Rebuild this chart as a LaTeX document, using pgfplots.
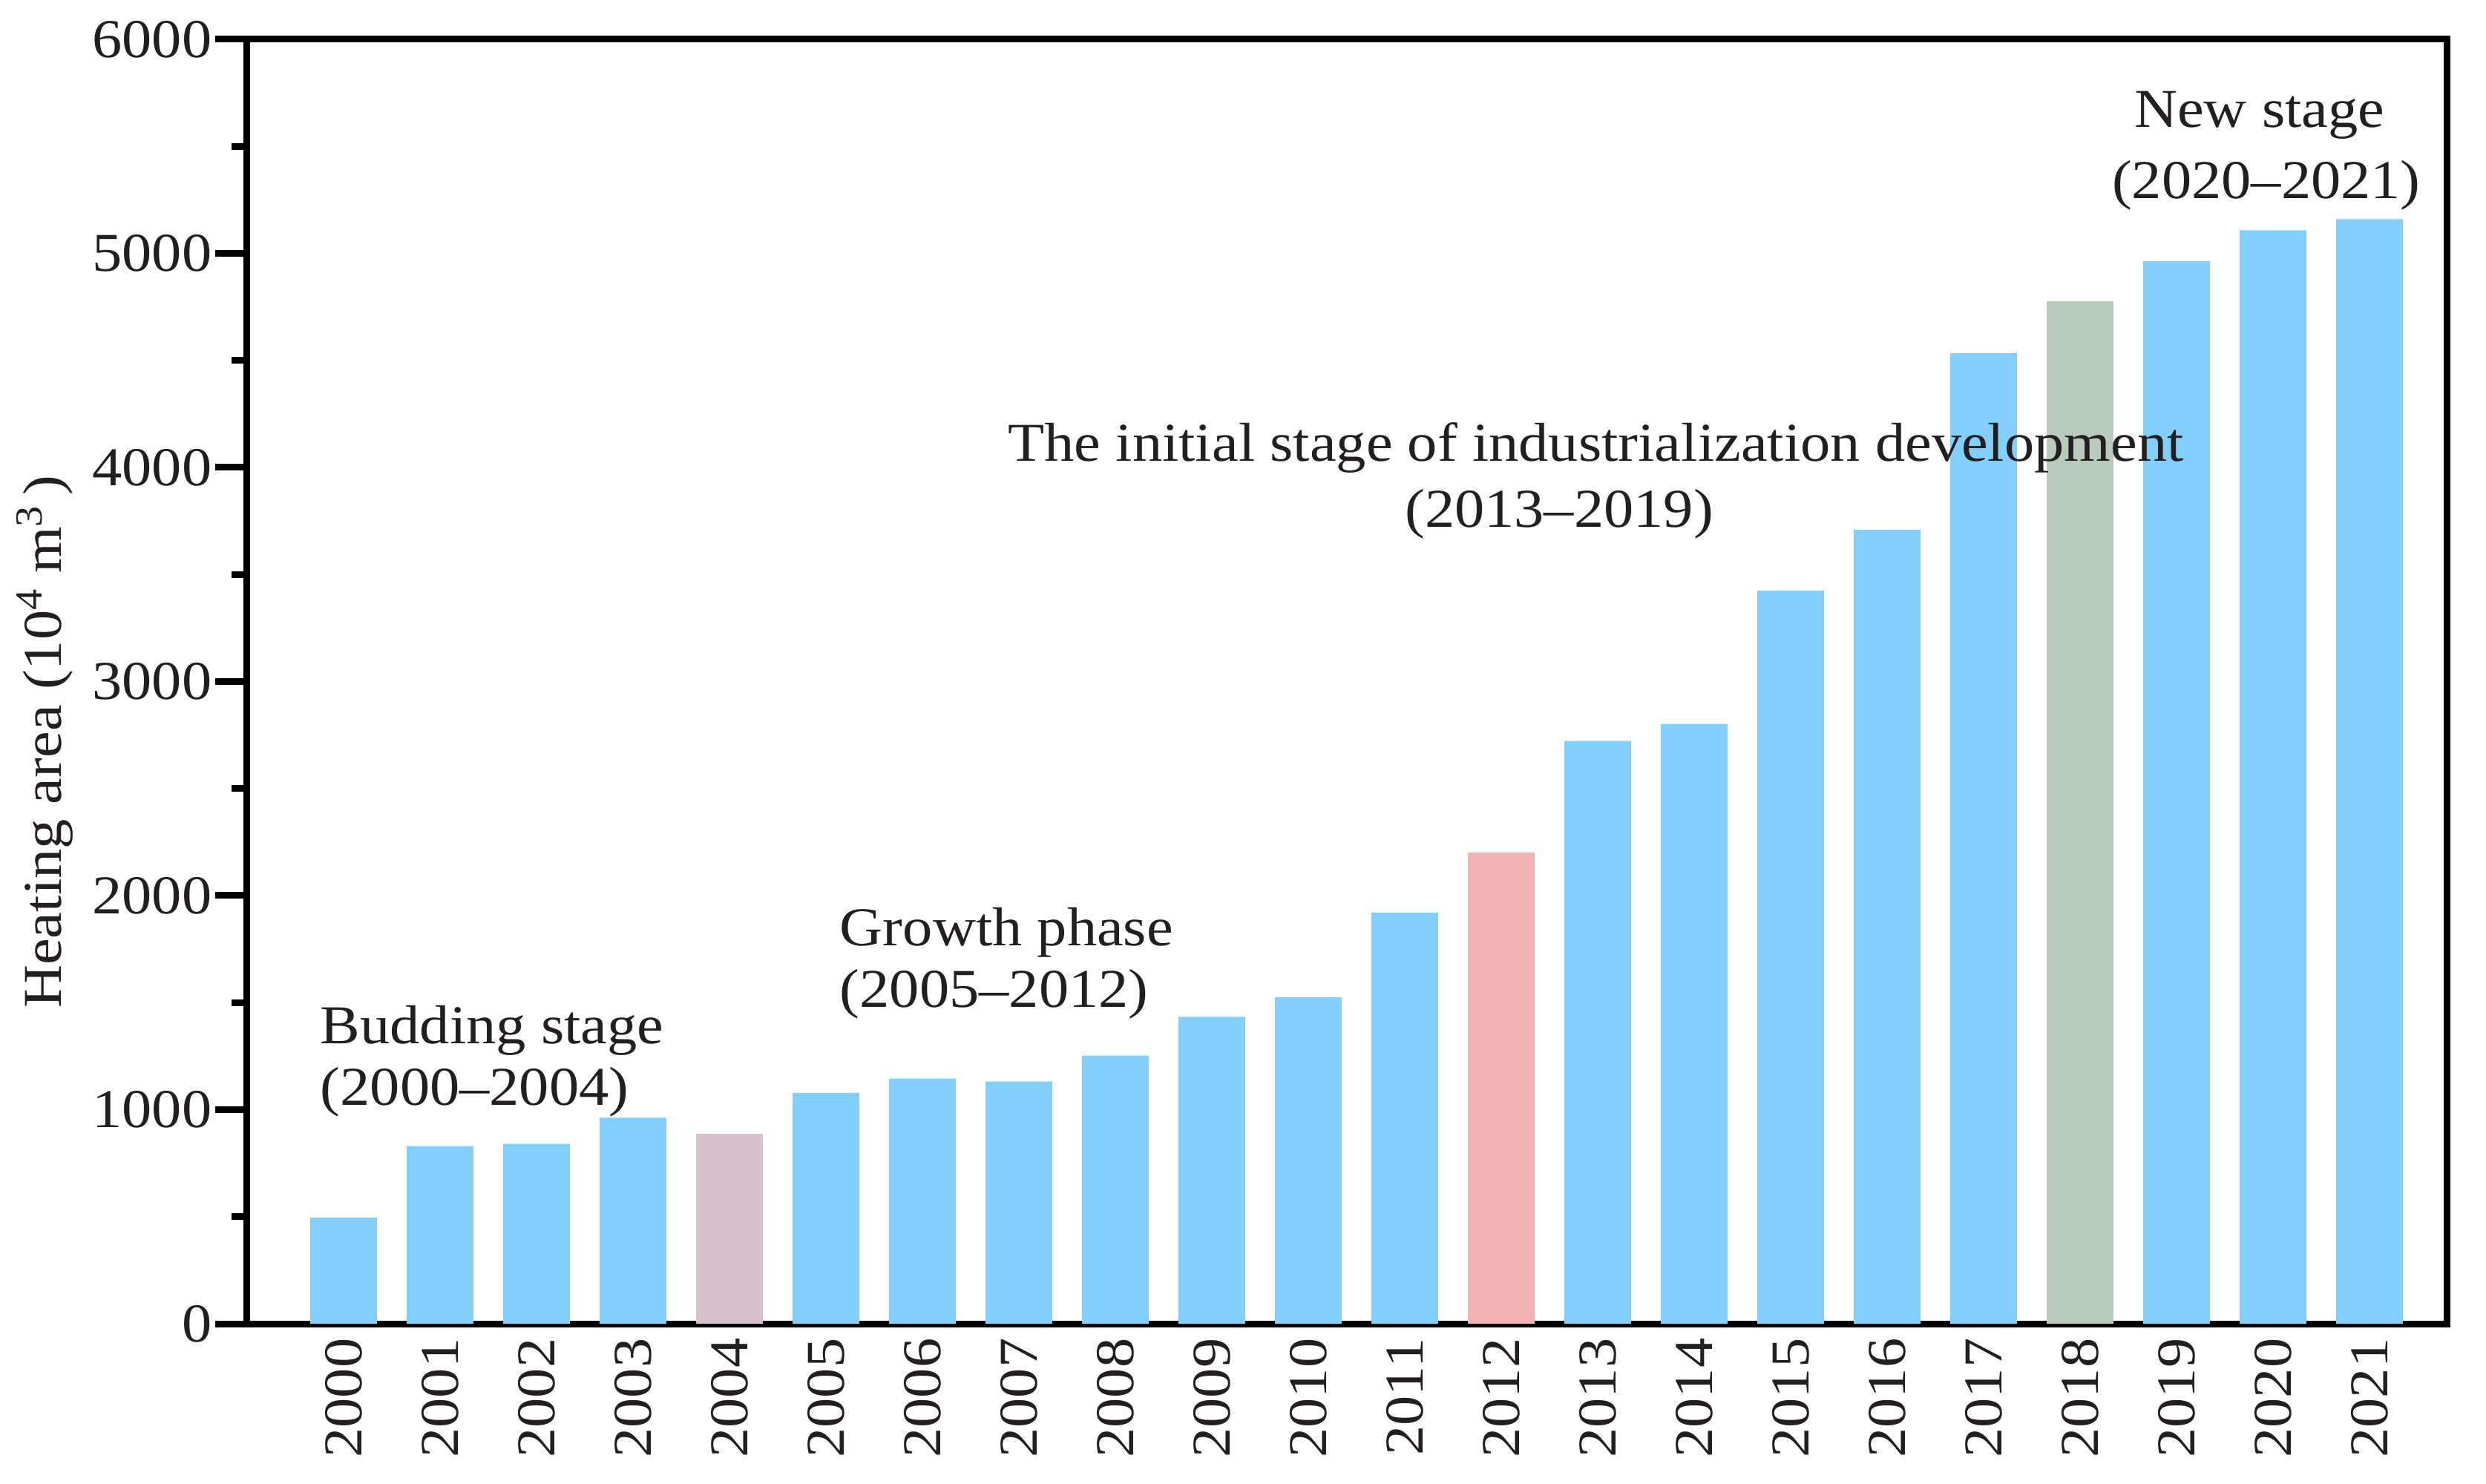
\documentclass[border=0pt]{standalone}
\usepackage{fontspec}
\setmainfont{Liberation Serif}[FakeStretch=1.09]
\usepackage{pgfplots}
\pgfplotsset{compat=1.18}

\definecolor{barblue}{RGB}{130,207,253}
\definecolor{barmauve}{RGB}{213,191,202}
\definecolor{barpink}{RGB}{242,179,179}
\definecolor{barsage}{RGB}{185,204,188}
\definecolor{txt}{RGB}{35,31,32}

\newcommand{\lbl}{\fontsize{21}{25}\selectfont}

\begin{document}
\begin{tikzpicture}
\useasboundingbox (-33.3mm,-21.6mm) rectangle (301.7mm,178.4mm);
\begin{axis}[
  at={(0,0)}, anchor=south west,
  scale only axis, width=296.4mm, height=173.1mm,
  xmin=-1, xmax=21.8, ymin=0, ymax=6000,
  clip=false,
  axis line style={line width=0.9mm, black},
  ytick={0,1000,...,6000},
  minor ytick={500,1500,...,5500},
  ytick pos=left, xtick pos=bottom,
  tick align=outside,
  major tick length=4.3mm, minor tick length=2.1mm,
  every tick/.style={line width=0.9mm, black},
  xtick={0,...,21},
  xticklabels={2000,2001,2002,2003,2004,2005,2006,2007,2008,2009,2010,
               2011,2012,2013,2014,2015,2016,2017,2018,2019,2020,2021},
  xtick style={draw=none},
  xticklabel shift=-2.4mm,
  /pgf/number format/assume math mode=true,
  /pgf/number format/1000 sep={},
  tick label style={font=\lbl, text=txt},
  xticklabel style={rotate=90, anchor=east, inner sep=0pt},
  yticklabel style={inner sep=0.4mm},
  ybar, bar width=0.69,
  every axis plot/.append style={bar shift=0pt, draw=none},
]
% main series (blue)
\addplot[fill=barblue] coordinates {
  (0,495) (1,830) (2,840) (3,962)
  (5,1078) (6,1145) (7,1131) (8,1253) (9,1434) (10,1525) (11,1920)
  (13,2722) (14,2802) (15,3424) (16,3708) (17,4533)
  (19,4963) (20,5108) (21,5160)};
% highlighted years
\addplot[fill=barmauve] coordinates {(4,887)};
\addplot[fill=barpink]  coordinates {(12,2201)};
\addplot[fill=barsage]  coordinates {(18,4777)};

% stage labels
\node[anchor=base west, font=\lbl, text=txt, inner sep=0pt] at (axis cs:-0.245,1309) {Budding stage};
\node[anchor=base west, font=\lbl, text=txt, inner sep=0pt] at (axis cs:-0.245,1021) {(2000--2004)};
\node[anchor=base west, font=\lbl, text=txt, inner sep=0pt] at (axis cs:5.14,1765) {Growth phase};
\node[anchor=base west, font=\lbl, text=txt, inner sep=0pt] at (axis cs:5.14,1478) {(2005--2012)};
\node[anchor=base, font=\lbl, text=txt, inner sep=0pt] at (axis cs:12.98,4031) {The initial stage of industrialization development};
\node[anchor=base, font=\lbl, text=txt, inner sep=0pt] at (axis cs:12.60,3722) {(2013--2019)};
\node[anchor=base, font=\lbl, text=txt, inner sep=0pt] at (axis cs:19.86,5590) {New stage};
\node[anchor=base, font=\lbl, text=txt, inner sep=0pt] at (axis cs:19.93,5255) {(2020--2021)};
\end{axis}
\node[rotate=90, anchor=base, font=\lbl, text=txt, inner sep=0pt] at (-25.0mm,78.4mm)
  {Heating area (10\textsuperscript{4} m\textsuperscript{3}\,)};
\end{tikzpicture}
\end{document}
